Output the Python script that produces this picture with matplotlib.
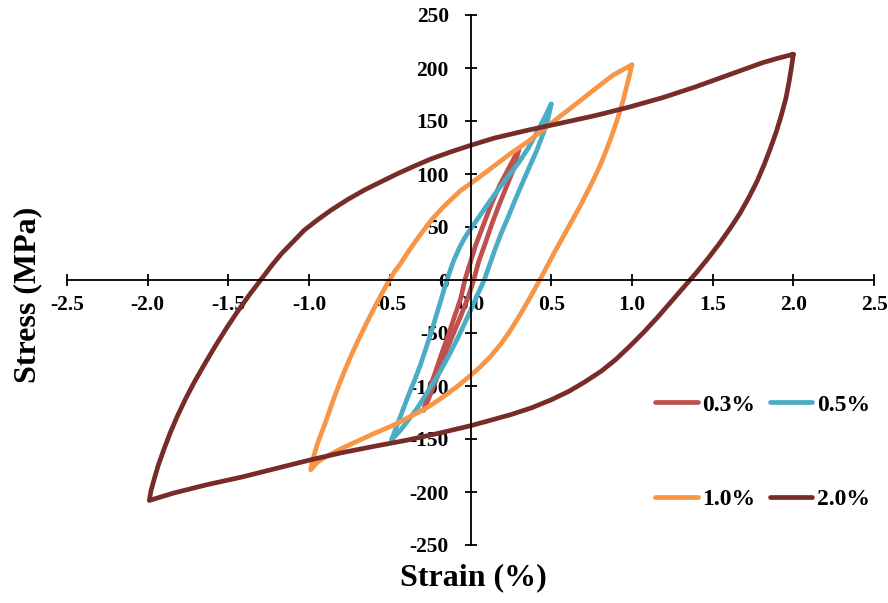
import matplotlib
matplotlib.use('Agg')
import matplotlib.pyplot as plt

# Hysteresis loops (strain %, stress MPa)
strain_03 = [0.30, 0.265, 0.22, 0.18, 0.135, 0.09, 0.05, 0.02, -0.014, -0.055, -0.096, -0.14,
             -0.19, -0.24, -0.29,
             -0.26, -0.22, -0.18, -0.14, -0.10, -0.06, -0.035, 0.0, 0.03, 0.08, 0.13, 0.18,
             0.235, 0.27, 0.30]
stress_03 = [123, 104, 87, 72, 54, 34, 17, 0, -16, -32, -47, -63,
             -85, -105, -123,
             -105, -88, -70, -53, -35, -17, 0, 17, 32, 52, 72, 89,
             105, 115, 123]

strain_05 = [0.50, 0.48, 0.45, 0.41, 0.36, 0.32, 0.275, 0.235, 0.19, 0.15, 0.12, 0.085, 0.04,
             0.0, -0.04, -0.08, -0.13, -0.18, -0.23, -0.28, -0.33, -0.38, -0.43, -0.49,
             -0.465, -0.44, -0.41, -0.38, -0.345, -0.31, -0.275, -0.245, -0.215, -0.185,
             -0.16, -0.135, -0.105, -0.07, -0.035, 0.0, 0.05, 0.10, 0.17, 0.23, 0.30, 0.36,
             0.41, 0.455, 0.50]
stress_05 = [166, 152, 138, 122, 105, 91, 75, 60, 44, 28, 15, 0, -15,
             -29, -42, -55, -70, -84, -97, -109, -121, -131, -141, -151,
             -141, -131, -119, -107, -94, -80, -64, -50, -35, -20,
             -7, 5, 18, 30, 40, 48, 59, 70, 85, 97, 111, 125,
             139, 152, 166]

strain_10 = [1.0, 0.988, 0.975, 0.96, 0.945, 0.925, 0.90, 0.87, 0.835, 0.80, 0.76, 0.72, 0.68,
             0.64, 0.60, 0.56, 0.52, 0.48, 0.44, 0.40, 0.36, 0.31, 0.25, 0.19, 0.125, 0.06,
             0.0, -0.07, -0.14, -0.20, -0.26, -0.33, -0.39, -0.45, -0.50, -0.60, -0.70,
             -0.80, -0.90, -0.95, -0.99,
             -0.98, -0.965, -0.945, -0.925, -0.905, -0.875, -0.845, -0.81, -0.77, -0.73,
             -0.69, -0.645, -0.595, -0.55, -0.51, -0.47, -0.44, -0.38, -0.31, -0.24, -0.18,
             -0.12, -0.06, 0.0, 0.05, 0.15, 0.25, 0.36, 0.46, 0.56, 0.67, 0.77, 0.88, 1.0]
stress_10 = [203, 195, 187, 178, 169, 159, 147, 134, 120, 107, 94, 82, 70,
             59, 48, 37, 26, 14.5, 3, -8, -19, -32, -47, -60, -72, -82,
             -90, -99, -107, -113.5, -119.5, -125.5, -130, -135, -138.5, -145, -152,
             -159, -167, -172, -179,
             -171, -163, -153, -145, -137, -124, -111, -97, -82, -68,
             -55, -41, -26, -13, -2, 8, 14, 28, 43, 57, 67,
             76, 84.5, 91, 96.5, 108, 119.5, 131, 143, 155, 168, 180, 193, 203]

strain_20 = [2.0, 1.99, 1.975, 1.955, 1.925, 1.895, 1.86, 1.82, 1.775, 1.725, 1.67, 1.61,
             1.545, 1.475, 1.40, 1.32, 1.24, 1.16, 1.075, 0.99, 0.90, 0.81, 0.71, 0.61, 0.50,
             0.38, 0.25, 0.12, 0.0, -0.18, -0.39, -0.60, -0.80, -1.0, -1.21, -1.42, -1.63,
             -1.84, -1.99,
             -1.98, -1.96, -1.935, -1.90, -1.86, -1.815, -1.765, -1.71, -1.65, -1.58,
             -1.51, -1.44, -1.37, -1.30, -1.23, -1.17, -1.10, -1.03, -0.95, -0.863, -0.76,
             -0.656, -0.55, -0.448, -0.34, -0.24, -0.12, 0.0, 0.15, 0.36, 0.56, 0.77,
             0.98, 1.19, 1.39, 1.50, 1.60, 1.70, 1.81, 1.90, 2.0]
stress_20 = [213, 202, 188, 172, 155, 140, 125, 109, 93, 78, 63, 49,
             35, 21, 7, -7, -21, -35, -49, -62, -75, -86, -96, -105, -113,
             -120.5, -127, -132.5, -137.5, -144, -151, -157, -163, -170, -178, -186, -193,
             -201, -208,
             -199, -188, -175, -160, -144, -128, -112, -96, -80, -62,
             -45, -29, -14, 0, 14, 25, 36, 47, 56.5, 66, 76,
             85, 93, 100.6, 108, 114.5, 121, 127, 134, 141.5, 148, 155,
             163, 172, 182, 188, 193.5, 199, 205, 209, 213]

labels = ['0.3%', '0.5%', '1.0%', '2.0%']
colors = ['#C0504D', '#4BACC6', '#F79646', '#772C2A']
xticks = [-2.5, -2.0, -1.5, -1.0, -0.5, 0.0, 0.5, 1.0, 1.5, 2.0, 2.5]
yticks = [-250, -200, -150, -100, -50, 0, 50, 100, 150, 200, 250]

plt.rcParams['font.family'] = ['Liberation Serif', 'DejaVu Serif']
plt.rcParams['font.weight'] = 'bold'
plt.rcParams['axes.unicode_minus'] = False

fig = plt.figure(figsize=(8.88, 6.03), dpi=100)
ax = fig.add_axes([67 / 888, 1 - 545 / 603, (874 - 67) / 888, (545 - 15) / 603])

series = [(strain_03, stress_03), (strain_05, stress_05),
          (strain_10, stress_10), (strain_20, stress_20)]
handles = []
for (sx, sy), lab, col in zip(series, labels, colors):
    h, = ax.plot(sx, sy, color=col, lw=3.4, label=lab,
                 solid_joinstyle='round', solid_capstyle='round')
    handles.append(h)

ax.set_xlim(-2.5, 2.5)
ax.set_ylim(-250, 250)
for side in ['top', 'right']:
    ax.spines[side].set_visible(False)
for side in ['left', 'bottom']:
    ax.spines[side].set_position(('data', 0))
    ax.spines[side].set_linewidth(1.3)

ax.set_xticks(xticks)
ax.set_xticklabels(['%.1f' % v for v in xticks])
ax.set_yticks(yticks)
ax.set_yticklabels(['%d' % v for v in yticks])
ax.tick_params(axis='both', direction='inout', length=9, width=1.3,
               labelsize=15.5)
ax.tick_params(axis='x', pad=6)
ax.tick_params(axis='y', pad=11)
for t in ax.get_xticklabels() + ax.get_yticklabels():
    t.set_fontweight('bold')

fig.text(28 / 888, 1 - 295 / 603, 'Stress (MPa)', rotation=90, fontsize=23,
         fontweight='bold', ha='center', va='center')
fig.text(473 / 888, 1 - 578 / 603, 'Strain (%)', fontsize=23,
         fontweight='bold', ha='center', va='center')

# legend laid out as two rows: 0.3% 0.5% / 1.0% 2.0%
order = [0, 2, 1, 3]
fig.legend([handles[i] for i in order], [labels[i] for i in order],
           ncol=2, frameon=False, loc='upper left',
           bbox_to_anchor=(655 / 888, 1 - 394 / 603),
           prop={'size': 17, 'weight': 'bold'},
           handlelength=1.8, handletextpad=0.2, columnspacing=0.6,
           labelspacing=3.1, borderpad=0, borderaxespad=0)

fig.savefig('out.png', dpi=100)
